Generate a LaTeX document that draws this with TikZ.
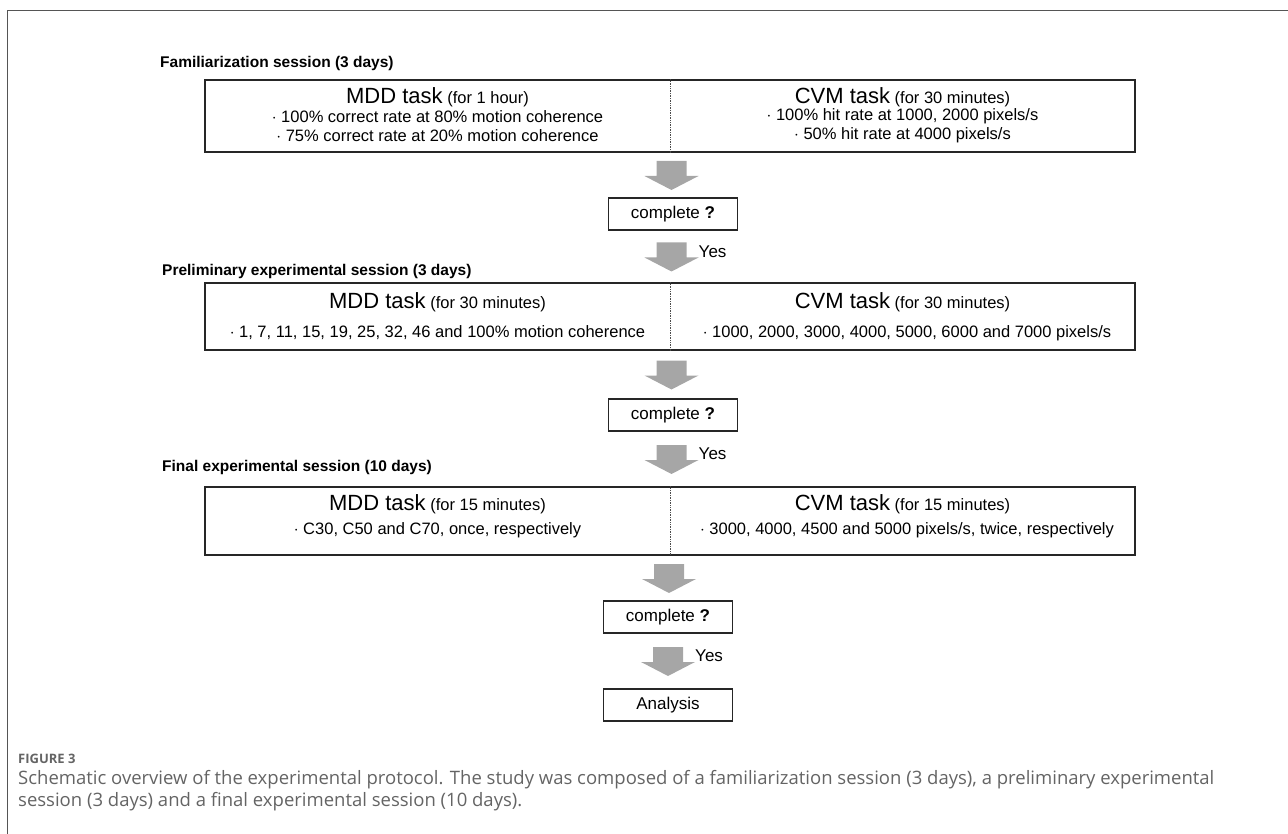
\documentclass[tikz,border=0pt]{standalone}
\usepackage{fontspec}
\setmainfont{Liberation Sans}
\newfontfamily\capfont{Open Sans}
\usepackage{xcolor}
\usepackage{tikz}
\usetikzlibrary{calc,positioning}

\definecolor{arrowgray}{RGB}{166,166,166}
\definecolor{framegray}{RGB}{85,85,85}
\definecolor{capgray}{RGB}{100,100,100}

% big gray block arrow between two nodes, plus a coordinate mid<from>
\newcommand{\grayarrow}[2]{%
  \path ($(#1.south)!0.5!(#2.north)$) coordinate (mid#1);
  \fill[arrowgray] ($(mid#1)+(-15,-14)$) -- ($(mid#1)+(15,-14)$) -- ($(mid#1)+(15,1)$)
    -- ($(mid#1)+(27,1)$) -- ($(mid#1)+(0,15)$) -- ($(mid#1)+(-27,1)$)
    -- ($(mid#1)+(-15,1)$) -- cycle;}
\newcommand{\taskname}[1]{{\fontsize{22}{24}\selectfont #1}}

\begin{document}
\begin{tikzpicture}[x=1pt,y=-1pt]
  \tikzstyle{sessbox}=[draw=black!85,line width=1.2pt,minimum width=930pt,minimum height=70pt,inner sep=0pt]
  \tikzstyle{checkbox}=[draw=black!85,line width=1.2pt,minimum width=129pt,minimum height=32pt,inner sep=0pt,font=\fontsize{17}{20}\selectfont]
  \tikzstyle{sesstitle}=[anchor=west,inner sep=0pt,font=\bfseries\fontsize{15.5}{18}\selectfont]
  \tikzstyle{taskhead}=[inner sep=0pt,font=\fontsize{16.5}{19}\selectfont]
  \tikzstyle{tasklist}=[inner sep=0pt,align=center,font=\fontsize{16.5}{19}\selectfont]
  \tikzstyle{divider}=[densely dotted,line width=0.7pt,black!70]
  \tikzstyle{yeslabel}=[anchor=west,inner sep=0pt,font=\fontsize{17}{20}\selectfont]
  \useasboundingbox (0,0) rectangle (1288,834);
  \draw[framegray,line width=0.8pt] (7,834) -- (7,10) -- (1288,10);

  % familiarization
  \node[sesstitle] (title1) at (160,63) {Familiarization session (3 days)};
  \node[sessbox,minimum height=72pt] (sess1) at (670,116) {};
  \draw[divider] (sess1.north) -- (sess1.south);
  \node[taskhead] (mdd1) at (437.5,97) {\taskname{MDD task} (for 1 hour)};
  \node[tasklist] (mddlist1) at (437.5,126) {$\cdot$ 100\% correct rate at 80\% motion coherence\\$\cdot$ 75\% correct rate at 20\% motion coherence};
  \node[taskhead] (cvm1) at (902.5,97) {\taskname{CVM task} (for 30 minutes)};
  \node[tasklist] (cvmlist1) at (902.5,126) {$\cdot$ 100\% hit rate at 1000, 2000 pixels/s\\$\cdot$ 50\% hit rate at 4000 pixels/s};
  \node[checkbox] (chk1) at (673,214) {complete \textbf{?}};

  % preliminary
  \node[sesstitle] (title2) at (162,271) {Preliminary experimental session (3 days)};
  \node[sessbox,minimum height=67pt] (sess2) at (670,316.5) {};
  \draw[divider] (sess2.north) -- (sess2.south);
  \node[taskhead] (mdd2) at (437.5,302) {\taskname{MDD task} (for 30 minutes)};
  \node[tasklist] (mddlist2) at (437.5,333) {$\cdot$ 1, 7, 11, 15, 19, 25, 32, 46 and 100\% motion coherence};
  \node[taskhead] (cvm2) at (902.5,302) {\taskname{CVM task} (for 30 minutes)};
  \node[tasklist] (cvmlist2) at (907,333) {$\cdot$ 1000, 2000, 3000, 4000, 5000, 6000 and 7000 pixels/s};
  \node[checkbox] (chk2) at (673,415) {complete \textbf{?}};

  % final
  \node[sesstitle] (title3) at (162,467) {Final experimental session (10 days)};
  \node[sessbox,minimum height=68pt] (sess3) at (670,521) {};
  \draw[divider] (sess3.north) -- (sess3.south);
  \node[taskhead] (mdd3) at (437.5,504) {\taskname{MDD task} (for 15 minutes)};
  \node[tasklist] (mddlist3) at (437.5,530) {$\cdot$ C30, C50 and C70, once, respectively};
  \node[taskhead] (cvm3) at (902.5,504) {\taskname{CVM task} (for 15 minutes)};
  \node[tasklist] (cvmlist3) at (907,530) {$\cdot$ 3000, 4000, 4500 and 5000 pixels/s, twice, respectively};
  \node[checkbox] (chk3) at (668,617) {complete \textbf{?}};
  \node[checkbox] (analysis) at (668,705) {Analysis};

  % arrows
  \grayarrow{sess1}{chk1}
  \grayarrow{chk1}{sess2}
  \grayarrow{sess2}{chk2}
  \grayarrow{chk2}{sess3}
  \grayarrow{sess3}{chk3}
  \grayarrow{chk3}{analysis}
  \node[yeslabel] (yes1) at ($(midchk1)+(27,-5)$) {Yes};
  \node[yeslabel] (yes2) at ($(midchk2)+(27,-5)$) {Yes};
  \node[yeslabel] (yes3) at ($(midchk3)+(27,-5)$) {Yes};

  % caption
  \node[anchor=west,inner sep=0pt,capgray,font=\capfont\bfseries\fontsize{13}{16}\selectfont] (figlabel) at (18,759) {FIGURE 3};
  \node[anchor=north west,inner sep=0pt,align=left,capgray,font=\capfont\fontsize{18.5}{22}\selectfont] (caption) at (18,770)
    {Schematic overview of the experimental protocol. The study was composed of a familiarization session (3 days), a preliminary experimental\\
     session (3 days) and a final experimental session (10 days).};
\end{tikzpicture}
\end{document}
